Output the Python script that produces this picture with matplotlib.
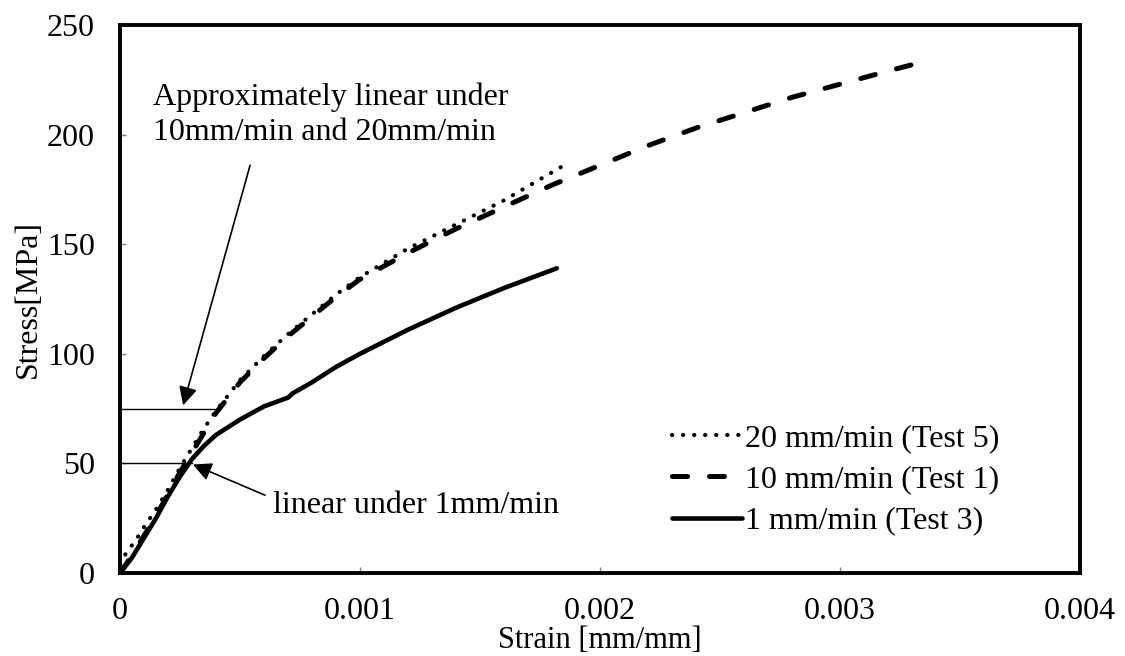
import matplotlib
matplotlib.use("Agg")
import matplotlib.pyplot as plt

# ---- data ----
strain_20 = [0, 0.00003, 0.00006, 0.0001, 0.00015, 0.0002, 0.00025, 0.0003, 0.00035,
             0.0004, 0.0005, 0.0006, 0.0007, 0.0008, 0.0009, 0.001, 0.0012, 0.0014,
             0.0016, 0.00185]
stress_20 = [4, 10, 14, 21, 29, 38, 48, 57, 66, 74, 88, 99, 109, 118, 127, 135, 148,
             159, 170, 186]

strain_10 = [0, 0.00005, 0.0001, 0.00015, 0.0002, 0.00025, 0.0003, 0.00035, 0.0004,
             0.0005, 0.0006, 0.0007, 0.0008, 0.0009, 0.001, 0.0012, 0.0014, 0.0016,
             0.0018, 0.002, 0.0022, 0.0024, 0.0026, 0.0028, 0.003, 0.0032, 0.00334]
stress_10 = [0, 8, 17, 26, 36, 46, 55, 64, 73, 87, 98, 108, 117, 126, 134, 146, 157,
             167, 177, 186, 195, 203, 210, 217, 223, 229, 233]

strain_1 = [0, 0.00005, 0.0001, 0.00015, 0.0002, 0.00025, 0.0003, 0.00035, 0.0004,
            0.0005, 0.0006, 0.0007, 0.00072, 0.0008, 0.0009, 0.001, 0.0012, 0.0014,
            0.0016, 0.00182]
stress_1 = [0, 7, 16, 25, 35, 44, 52, 58, 63, 70, 76, 80, 82, 87, 94, 100, 111, 121,
            130, 139]

labels = ["20 mm/min (Test 5)", "10 mm/min (Test 1)", "1 mm/min (Test 3)"]
x_ticks = [0, 0.001, 0.002, 0.003, 0.004]
x_ticklabels = ["0", "0.001", "0.002", "0.003", "0.004"]
y_ticks = [0, 50, 100, 150, 200, 250]

plt.rcParams['font.family'] = ['Liberation Serif', 'DejaVu Serif']
FS = 23

fig = plt.figure(figsize=(11.25, 6.56), dpi=100)
ax = fig.add_axes([120/1125, 83/656, 960/1125, 548/656])

ax.plot(strain_20, stress_20, color='black', lw=3.0, linestyle=(0, (0.05, 2.6)),
        dash_capstyle='round', label=labels[0])
ax.plot(strain_10, stress_10, color='black', lw=3.6, linestyle=(0, (3, 4.4)),
        dash_capstyle='round', label=labels[1])
ax.plot(strain_1, stress_1, color='black', lw=3.3, solid_capstyle='round',
        solid_joinstyle='round', label=labels[2])

# annotation lines
ax.plot([0, 0.0004], [75, 75], color='black', lw=1.0)
ax.plot([0, 0.0003], [50, 50], color='black', lw=1.0)

ax.annotate("", xy=(0.000263, 76.5), xytext=(0.000542, 186),
            arrowprops=dict(arrowstyle='-|>', color='black', lw=1.2,
                            mutation_scale=28, shrinkA=0, shrinkB=0))
ax.annotate("", xy=(0.000304, 49.5), xytext=(0.000604, 35.5),
            arrowprops=dict(arrowstyle='-|>', color='black', lw=1.2,
                            mutation_scale=28, shrinkA=0, shrinkB=0))

ax.text(0.000138, 209, "Approximately linear under\n10mm/min and 20mm/min",
        fontsize=FS, ha='left', va='center', linespacing=1.3)
ax.text(0.000638, 31, "linear under 1mm/min", fontsize=FS, ha='left', va='center')

ax.set_xlim(0, 0.004)
ax.set_ylim(0, 250)
ax.set_xticks(x_ticks)
ax.set_xticklabels(x_ticklabels)
ax.set_yticks(y_ticks)
ax.tick_params(axis='both', direction='in', length=4, width=1, color='gray',
               labelsize=FS)
ax.tick_params(axis='x', pad=17)
ax.tick_params(axis='y', pad=18)

for s in ax.spines.values():
    s.set_linewidth(2.8)
    s.set_color('black')

ax.set_xlabel("Strain [mm/mm]", fontsize=22, labelpad=0)
ax.set_ylabel("Stress[MPa]", fontsize=FS, labelpad=3)

leg = ax.legend(loc='center left', bbox_to_anchor=(0.575, 0.17), frameon=False,
                fontsize=FS, handlelength=2.2, handletextpad=0.1,
                labelspacing=0.37, borderpad=0, borderaxespad=0)

fig.savefig("out.png", dpi=100)
